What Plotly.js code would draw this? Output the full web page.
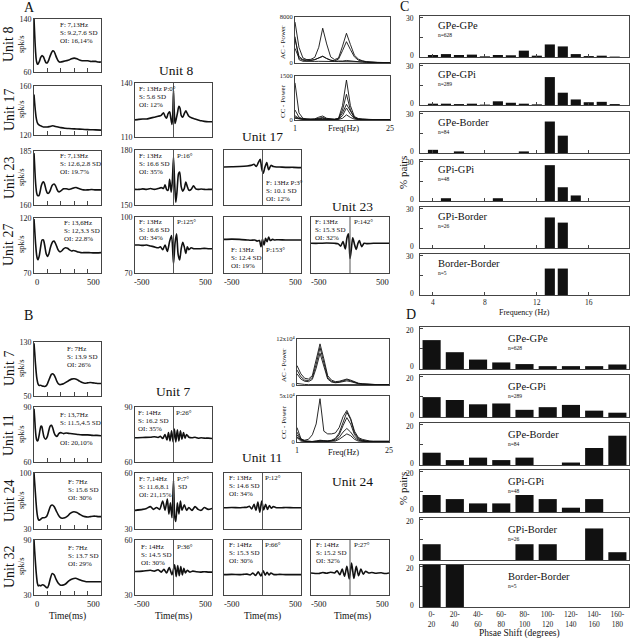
<!DOCTYPE html>
<html><head><meta charset="utf-8">
<script src="https://cdn.plot.ly/plotly-3.0.1.min.js"></script>
<style>html,body{margin:0;padding:0;background:#fff}#g{width:633px;height:638px}</style>
</head><body><div id="g"></div>
<script>
// ---------- Panel A : auto-correlograms (lag ms, spk/s) ----------
const lagA8  = [0,4,8,12,16,20,25,30,40,50,60,70,80,90,100,110,120,130,140,150,160,170,180,190,200,220,240,260,280,300,320,340,360,380,400,420,440,460,480,500];
const acA8   = [140,122,104,90,80,75,72,72,76,82,85,83,78,74,74,78,84,89,92,91,86,81,77,75,75,76,77,78,80,81,80,78,77,77,77,76,76,76,75,75];
const lagA17 = [0,5,10,15,20,25,30,40,50,60,70,80,100,120,140,160,180,200,230,260,300,340,380,420,460,500];
const acA17  = [153,146,140,135,132,130,129,128,127.5,127,126.5,126.5,126.5,127,127.5,127,126.5,126,125.5,125.3,125,124.8,124.5,124.3,124.2,124];
const lagA23 = [0,5,10,15,20,25,30,37,45,55,65,72,80,90,100,110,120,135,150,160,170,180,190,200,220,240,260,280,300,315,330,350,370,400,430,460,500];
const acA23  = [184,178,172,168,165.5,164.5,164.3,164.3,166,169,170.5,170.7,169.5,167,165.5,165.5,166.5,169,169.7,169,167.5,166.3,166.1,166.5,167.5,167.5,167.2,167.5,168,168.1,167.7,167.3,167,167,167.2,167,167];
const lagA27 = [0,5,10,15,20,25,30,40,50,60,70,80,90,100,110,120,130,140,150,160,170,180,190,200,210,220,235,250,265,280,295,310,330,350,380,410,440,470,500];
const acA27  = [119,110,100,92,86,83,82,86,94,100,100,95,88,85,87,92,96,98.5,99,97,94,91,89.5,89.5,90.5,92,93,92.5,91,90,90.5,90,89,88.5,88.5,88.5,88.3,88.3,88.5];
// ---------- Panel A : cross-correlograms ----------
const lagX17_8 = [-500,-450,-400,-350,-300,-250,-200,-160,-130,-110,-90,-70,-50,-35,-20,-10,0,10,20,35,50,70,85,100,120,140,160,180,200,240,280,320,360,400,450,500];
const ccX17_8  = [119.5,119.8,120,120,120.5,121,121.5,122,123.5,121.5,120.5,123,124,120.5,117,122,136,124,117.5,120,123,127,126,122,121,123,124.5,123,121.5,120.5,120,119.5,119,118.7,118.5,118.5];
const lagX23_8 = [-500,-450,-400,-350,-300,-250,-200,-160,-130,-110,-90,-70,-50,-30,-15,0,15,30,45,65,80,100,120,140,160,180,200,230,260,290,320,360,400,450,500];
const ccX23_8  = [158.5,158.5,158.8,158.5,159,158.5,159,159.5,159,161,158.5,158,164,157,163,176,162,151.5,157,167,168,160,157.5,159,162.5,160,158,158.5,160.5,158.8,158.5,158.7,158.5,158.5,158.5];
const lagX27_8 = [-500,-450,-400,-350,-300,-250,-200,-170,-140,-110,-80,-50,-25,0,20,40,60,80,100,120,140,160,180,200,230,260,300,350,400,450,500];
const ccX27_8  = [85,85,84.8,85,84.5,84,83.5,84,82.5,85,81.5,87,90,75,86,91,80,77,83,86.5,84,80.5,84,82.5,83.5,83,83,83,83.2,83,83];
const lagX23_17 = [-500,-400,-300,-200,-150,-110,-80,-55,-30,-10,10,30,55,80,110,140,180,220,300,400,500];
const ccX23_17  = [69,69.5,70,71,72,74,70,77,83,66,58,68,77,64,72,70,69,69,68.5,68.5,68];
const lagX27_17 = [-500,-400,-300,-200,-150,-100,-70,-40,-20,0,20,40,60,80,100,130,160,200,300,400,500];
const ccX27_17  = [60,60.5,60,59,58.5,59,57,58,47,60,50,62,56,64,58,60,59,59.5,59,59,59];
const lagX27_23 = [-500,-400,-300,-200,-150,-120,-90,-60,-40,-20,0,15,35,60,80,100,120,150,180,220,300,400,500];
const ccX27_23  = [53,53,53.5,53,52,48,56,43,62,70,26,40,63,50,42,52,58,47,53,52.5,53,53,53];
// ---------- Panel A : power spectra ----------
const freqPS = [1,2,3,4,5,6,7,8,9,10,11,12,13,14,15,16,17,18,19,20,21,22,23,24,25];
const acPowA = [
 [7300,2800,900,600,650,1000,2800,6200,3400,1100,600,900,3000,5300,3300,1400,700,400,250,150,100,80,60,50,40],
 [4200,1200,600,500,500,600,900,1200,800,500,400,700,2200,3800,2400,1100,500,300,200,120,80,60,50,40,30],
 [2600,900,500,400,450,600,900,1200,800,500,350,300,350,450,350,250,200,150,100,80,60,50,40,30,30],
 [4700,600,300,250,250,280,300,320,300,280,260,250,260,280,260,240,220,200,180,150,120,100,80,60,50]];
const ccPowA = [
 [1300,250,60,30,30,40,100,140,60,30,20,60,500,1400,500,120,50,30,20,15,10,10,10,10,10],
 [350,100,40,20,20,30,60,90,40,20,20,50,350,900,350,90,40,25,15,10,10,10,10,10,10],
 [150,60,30,20,20,20,40,60,30,20,20,40,250,550,300,80,30,20,15,10,10,10,10,10,10],
 [100,50,30,20,20,20,30,40,30,20,15,30,150,420,200,60,25,15,10,10,10,10,10,10,10],
 [60,30,20,15,15,15,20,30,20,15,10,20,60,180,90,30,15,10,10,10,10,10,10,10,10]];
// ---------- Panel B : auto-correlograms ----------
const lagB7  = [0,5,10,15,20,25,30,40,50,60,70,80,90,100,110,120,130,140,150,160,170,180,190,200,220,240,260,280,300,320,340,360,380,400,420,440,460,480,500];
const acB7   = [128,115,100,88,78,72,68,65.5,66,65,64.5,64,65,68,73,78,82,83,81,77,72,68.5,67,67,68,70.5,73,75,75.5,74.5,72,70,69,69.5,70,69.5,69,68.5,68.5];
const lagB11 = [0,5,10,15,20,25,30,38,45,52,58,65,75,87,100,110,120,131,140,150,160,173,185,200,220,240,270,300,330,360,400,440,470,500];
const acB11  = [89,84,78,74,72,71.5,71.8,74.5,77.5,79.5,79.5,77,73.5,72.4,74,77,79.5,80,78.5,76,74.5,74,75.5,76,75.5,75.8,75.5,75.3,75,74.8,74.8,74.5,74.5,74.3];
const lagB24 = [0,5,10,15,20,25,30,37,45,55,65,75,85,95,105,115,125,136,150,165,180,195,210,230,250,270,297,320,340,360,380,400,420,440,460,480,500];
const acB24  = [100,88,76,64,54,47,43,41,41.5,43,44,44,44.5,46,50,55,59,60,58,53,48,44.5,43.5,44,46,49.5,51.5,50.5,48.5,46.5,45.5,45,45.5,46,46,45.5,45.5];
const lagB32 = [0,5,10,15,20,25,32,40,50,60,70,80,90,100,110,120,136,150,165,180,195,215,235,260,285,310,335,360,390,420,450,480,500];
const acB32  = [90,78,67,57,49,43,40,40.5,40,41,41,40,38.5,38,41,47,53.5,52,47,43,41,40.8,42,45.5,47.5,48.2,47,45.5,44.5,44.5,44.5,44.5,44.5];
// ---------- Panel B : cross-correlograms ----------
const lagX11_7 = [-500,-400,-300,-250,-200,-170,-140,-110,-85,-65,-45,-25,-5,12,30,50,70,90,110,130,150,170,200,240,280,320,360,400,450,500];
const ccX11_7  = [73.2,73.4,73.5,73.8,73.4,74,72.8,75,72,76,71.5,77,71,78,71,77.5,71.5,77,72.5,76,73,75,73.5,73.2,73.5,73,73.2,73,73,72.8];
const lagX24_7 = [-500,-400,-350,-300,-260,-220,-180,-140,-110,-80,-60,-40,-20,0,15,30,50,70,90,110,140,170,200,240,280,320,360,400,450,500];
const ccX24_7  = [40,40.5,41,42,40.5,41.5,40.5,45,40,46,38,44,36,56,37,34,44,38,45,40,43,40,41.5,40,42,40.5,40,41.5,40.5,41];
const lagX32_7 = [-500,-400,-300,-250,-200,-160,-125,-90,-55,-20,15,35,55,75,95,115,135,155,180,210,250,300,350,400,450,500];
const ccX32_7  = [42.8,43,43.5,43,43.8,42.5,44,42,45,41,46.5,40,46,40.5,45.5,41,44.5,42,43.5,42.5,43,42.7,42.5,42.7,42.5,42.5];
const lagX24_11 = [-500,-400,-300,-250,-200,-170,-140,-110,-85,-60,-35,-10,15,40,65,90,115,140,170,200,250,300,400,500];
const ccX24_11  = [38,38.5,38,38.5,39,40.5,36,44,33,48,30,50,34,44,35,42,37,40,38.5,38,38,38.5,38,38];
const lagX32_11 = [-500,-400,-300,-250,-200,-160,-125,-90,-55,-20,10,35,60,85,110,140,180,220,300,400,500];
const ccX32_11  = [37,37.5,37,37.5,38,36.5,40,35.5,42,34.5,44,36,41.5,36.5,40,37.5,37,37.5,37,37,37];
const lagX32_24 = [-500,-400,-350,-300,-250,-200,-165,-130,-100,-70,-40,-10,20,50,80,110,140,170,200,240,280,320,400,450,500];
const ccX32_24  = [40,39,41,39.5,41.5,40,44,37,47,34,52,29,58,30,52,35,47,38,43,40,41,39.5,40.5,39,40];
// ---------- Panel B : power spectra (x10^4) ----------
const acPowB = [
 [5.2,3.0,1.8,1.6,2.5,6.5,11.0,7.0,2.5,1.3,0.9,1.0,1.3,1.6,1.3,0.8,0.5,0.3,0.2,0.15,0.1,0.1,0.1,0.1,0.1],
 [4.0,2.2,1.3,1.2,2.0,5.5,10.0,6.0,2.0,1.0,0.7,0.8,1.1,1.4,1.1,0.7,0.4,0.3,0.2,0.15,0.1,0.1,0.1,0.1,0.1],
 [3.0,1.6,1.0,0.9,1.5,4.5,8.5,5.0,1.6,0.8,0.6,0.7,0.9,1.1,0.9,0.6,0.35,0.25,0.15,0.1,0.1,0.1,0.1,0.1,0.1],
 [0.4,0.2,0.15,0.1,0.1,0.15,0.25,0.2,0.1,0.1,0.1,0.1,0.1,0.1,0.1,0.1,0.1,0.1,0.1,0.1,0.1,0.1,0.1,0.1,0.1]];
const ccPowB = [
 [0.5,0.3,0.2,0.3,0.8,2.0,4.8,1.2,0.9,0.9,1.0,1.6,2.8,3.5,2.6,1.2,0.5,0.3,0.2,0.1,0.1,0.1,0.1,0.1,0.1],
 [1.6,0.4,0.1,0.05,0.05,0.1,0.2,0.15,0.1,0.2,0.4,1.0,2.2,3.3,2.5,1.0,0.4,0.2,0.1,0.05,0.05,0.05,0.05,0.05,0.05],
 [1.1,0.3,0.1,0.05,0.05,0.1,0.15,0.1,0.1,0.15,0.3,0.8,1.8,2.7,2.0,0.8,0.3,0.15,0.1,0.05,0.05,0.05,0.05,0.05,0.05],
 [0.8,0.2,0.1,0.05,0.05,0.05,0.1,0.1,0.05,0.1,0.2,0.5,1.1,1.5,1.1,0.5,0.2,0.1,0.05,0.05,0.05,0.05,0.05,0.05,0.05],
 [0.5,0.1,0.05,0.05,0.05,0.05,0.05,0.05,0.05,0.05,0.1,0.3,0.6,0.9,0.7,0.3,0.1,0.05,0.05,0.05,0.05,0.05,0.05,0.05,0.05]];
// ---------- Panel C : oscillation frequency histograms (% pairs) ----------
const pairGroups = ['GPe-GPe','GPe-GPi','GPe-Border','GPi-GPi','GPi-Border','Border-Border'];
const pairN = ['n=628','n=289','n=84','n=48','n=26','n=5'];
const freqHz = [4,5,6,7,8,9,10,11,12,13,14,15,16,17,18];
const freqPct = [
 [1.5,2.2,1.5,1.8,0.5,1.5,1.3,4.8,1.0,9.5,8.0,2.2,0.7,1.0,0.3],
 [1.0,1.0,0.7,1.0,0.3,2.8,1.7,1.0,0.5,21.1,9.3,4.2,2.1,2.4,0.7],
 [2.4,0,1.2,0,0,0,0,1.2,0,23.8,13.1,0,0,0,0],
 [0,2.1,0,0,0,2.1,0,0,0,27.1,10.4,4.2,0,0,0],
 [0,0,0,0,0,0,0,0,0,23.1,19.2,0,0,0,0],
 [0,0,0,0,0,0,0,0,0,20,20,0,0,0,0]];
// ---------- Panel D : phase shift histograms (% pairs) ----------
const phaseBins = ['0-<br>20','20-<br>40','40-<br>60','60-<br>80','80-<br>100','100-<br>120','120-<br>140','140-<br>160','160-<br>180'];
const phasePct = [
 [14.1,8.2,4.6,3.2,2.4,1.4,1.4,1.4,2.2],
 [9.7,8.3,6.2,6.6,3.5,4.8,5.9,3.1,2.1],
 [6.0,2.4,3.6,2.4,3.6,0,1.2,8.3,14.3],
 [8.3,6.3,4.2,4.2,8.3,6.3,2.1,6.3,0],
 [7.7,0,0,0,7.7,7.7,0,15.4,3.8],
 [60,40,0,0,0,0,0,0,0]];

// ================= drawing =================
const W=633,H=638;
const FONT='Liberation Serif, "Times New Roman", serif';
const data=[], shapes=[], annotations=[];
const layout={width:W,height:H,margin:{l:0,r:0,t:0,b:0},paper_bgcolor:'#fff',plot_bgcolor:'#fff',
  showlegend:false,font:{family:FONT,size:8,color:'#222'},shapes,annotations};
let n=0;
function panel(box,xo,yo){
  n++; const s=n===1?'':String(n);
  const base={showline:true,mirror:true,linecolor:'#444',linewidth:1,showgrid:false,zeroline:false,
    ticks:'',showticklabels:false,fixedrange:true,tickfont:{family:FONT,size:8,color:'#222'},ticklen:3,tickcolor:'#444'};
  layout['xaxis'+s]=Object.assign({},base,{domain:[box[0]/W,box[2]/W],anchor:'y'+s},xo);
  layout['yaxis'+s]=Object.assign({},base,{domain:[1-box[3]/H,1-box[1]/H],anchor:'x'+s},yo);
  return {x:'x'+s,y:'y'+s};
}
function line(a,x,y,w,shape){
  data.push({type:'scatter',mode:'lines',x:x,y:y,xaxis:a.x,yaxis:a.y,hoverinfo:'skip',
    line:{color:'#111',width:w||1.6,shape:shape||'spline',smoothing:0.7}});
}
function txt(px,py,text,size,o){
  annotations.push(Object.assign({xref:'paper',yref:'paper',x:px/W,y:1-py/H,text:text,showarrow:false,
    xanchor:'left',yanchor:'middle',font:{family:FONT,size:size||7,color:'#111'}},o||{}));
}
function block(px,py,lines,size){ lines.forEach((t,i)=>txt(px,py+i*8,t,size)); }
const ctr=(x,y,s,sz)=>txt(x,y,s,sz||8.5,{xanchor:'center'});
const rgt=(x,y,s,sz)=>txt(x,y,s,sz||7.5,{xanchor:'right'});

// ---- auto-correlogram axis builder (inside ticks every 100 ms)
function autoAx(box,yr){
  return panel(box,{range:[0,500],tickvals:[0,100,200,300,400,500],ticks:'inside',ticklen:4},
    {range:yr,tickvals:yr,ticktext:yr.map(String),showticklabels:true});
}
function crossAx(box,yr,yl){
  const a=panel(box,{range:[-500,500]},
    {range:yr,tickvals:yr,ticktext:yr.map(String),showticklabels:!!yl});
  shapes.push({type:'line',xref:a.x,yref:a.y+' domain',x0:0,x1:0,y0:0,y1:1,line:{color:'#555',width:1}});
  return a;
}
function psAx(box,yr,ylab,bottom){
  return panel(box,{range:[1,25],tickvals:[1,25],ticktext:['1','25'],showticklabels:!!bottom},
    {range:yr,tickvals:[0,yr[1]],ticktext:['0',ylab],showticklabels:true,tickfont:{family:FONT,size:6.5,color:'#222'}});
}

// columns / rows (pixel boxes)
const c1=[34,101], c2=[135,212], c3=[224,301], c4=[311,389];
const rA1=[[19,72],[86,135],[151,205],[218,273]], rA=[null,[83,137],[150,205],[217,273]];
const rB1=[[342,396],[407,462],[473,529],[540,595]], rB=[null,[407,462],[473,529],[540,595]];
const bx=(c,r)=>[c[0],r[0],c[1],r[1]];

// ---- Panel A
let a;
a=autoAx(bx(c1,rA1[0]),[60,140]); line(a,lagA8,acA8);
a=autoAx(bx(c1,rA1[1]),[120,160]); line(a,lagA17,acA17);
a=autoAx(bx(c1,rA1[2]),[160,185]); line(a,lagA23,acA23);
a=autoAx(bx(c1,rA1[3]),[70,120]); line(a,lagA27,acA27);
a=crossAx(bx(c2,rA[1]),[110,140],true); line(a,lagX17_8,ccX17_8);
a=crossAx(bx(c2,rA[2]),[150,180],true); line(a,lagX23_8,ccX23_8);
a=crossAx(bx(c2,rA[3]),[70,100],true); line(a,lagX27_8,ccX27_8);
a=crossAx(bx(c3,rA[2]),[0,100],false); line(a,lagX23_17,ccX23_17);
a=crossAx(bx(c3,rA[3]),[0,100],false); line(a,lagX27_17,ccX27_17);
a=crossAx(bx(c4,rA[3]),[0,100],false); line(a,lagX27_23,ccX27_23);
a=psAx([295,17,390,63],[0,8200],'8000',false); acPowA.forEach(v=>line(a,freqPS,v,0.9,'linear'));
a=psAx([295,76,390,120],[0,1540],'1500',true); ccPowA.forEach(v=>line(a,freqPS,v,0.9,'linear'));

// ---- Panel B
a=autoAx(bx(c1,rB1[0]),[50,130]); line(a,lagB7,acB7);
a=autoAx(bx(c1,rB1[1]),[60,90]); line(a,lagB11,acB11);
a=autoAx(bx(c1,rB1[2]),[30,100]); line(a,lagB24,acB24);
a=autoAx(bx(c1,rB1[3]),[30,90]); line(a,lagB32,acB32);
a=crossAx(bx(c2,rB[1]),[60,90],true); line(a,lagX11_7,ccX11_7);
a=crossAx(bx(c2,rB[2]),[30,60],true); line(a,lagX24_7,ccX24_7);
a=crossAx(bx(c2,rB[3]),[30,60],true); line(a,lagX32_7,ccX32_7);
a=crossAx(bx(c3,rB[2]),[0,100],false); line(a,lagX24_11,ccX24_11);
a=crossAx(bx(c3,rB[3]),[0,100],false); line(a,lagX32_11,ccX32_11);
a=crossAx(bx(c4,rB[3]),[0,100],false); line(a,lagX32_24,ccX32_24);
a=psAx([297,339,389,385],[0,12.3],'12x10⁴',false); acPowB.forEach(v=>line(a,freqPS,v,0.9,'linear'));
a=psAx([297,396,389,442],[0,5.1],'5x10⁴',true); ccPowB.forEach(v=>line(a,freqPS,v,0.9,'linear'));

// bottom lag labels (inset, as in the original)
[[282],[604]].forEach(([y])=>{
  ctr(37,y,'0'); ctr(93,y,'500');
  ctr(142,y,'-500'); ctr(205,y,'500');
  ctr(232,y,'-500'); ctr(295,y,'500');
  ctr(319,y,'-500'); ctr(382,y,'500');
});

// ---- Panel C
const cTops=[16,64,112,160,207,254];
cTops.forEach((t,i)=>{
  const last=i===cTops.length-1;
  const ax=panel([420,t,629,t+41],{range:[3,19.1],tickvals:[4,8,12,16],ticktext:['4','8','12','16'],ticks:'inside',ticklen:3,showticklabels:last,
      tickfont:{family:FONT,size:7.5,color:'#222'}},
    {range:[0,31],tickvals:[0,15,30],ticks:'inside',ticklen:3});
  data.push({type:'bar',x:freqHz,y:freqPct[i],xaxis:ax.x,yaxis:ax.y,width:0.78,marker:{color:'#111'},hoverinfo:'skip'});
  rgt(416,t+2.5,'30'); rgt(416,t+39.5,'0');
  txt(436,t+10,pairGroups[i],10.5); txt(436,t+19.5,pairN[i],5.5);
});
// ---- Panel D
const dTops=[327,375,423,470,518,565];
dTops.forEach((t,i)=>{
  const last=i===dTops.length-1;
  const ax=panel([420,t,629,t+42],{range:[-0.5,8.5],tickvals:[0,1,2,3,4,5,6,7,8],ticktext:phaseBins,showticklabels:last,
      tickfont:{family:FONT,size:7.5,color:'#222'}},
    {range:[0,20.5],tickvals:[0,10,20],ticks:'inside',ticklen:3});
  data.push({type:'bar',x:[0,1,2,3,4,5,6,7,8],y:phasePct[i],xaxis:ax.x,yaxis:ax.y,width:0.78,marker:{color:'#111'},hoverinfo:'skip'});
  rgt(416,t+3,'20'); rgt(416,t+40,'0');
  txt(506,t+11,pairGroups[i],10.5); txt(506,t+20.5,pairN[i],5.5);
});

// ---- texts: panel letters
txt(22,7,'A',14); txt(22,316,'B',14); txt(398,6,'C',14); txt(404,314,'D',14);
// row labels
function rowLab(y,u){ txt(9,y,u,14,{textangle:-90,xanchor:'center'}); txt(21,y,'spk/s',8.5,{textangle:-90,xanchor:'center'}); }
rowLab(45,'Unit 8'); rowLab(110,'Unit 17'); rowLab(178,'Unit 23'); rowLab(245,'Unit 27');
rowLab(369,'Unit 7'); rowLab(435,'Unit 11'); rowLab(501,'Unit 24'); rowLab(567,'Unit 32');
// column titles
const ct=(x,y,s)=>txt(x,y,s,13.5,{xanchor:'center'});
ct(176,70,'Unit 8'); ct(262,137,'Unit 17'); ct(352,206,'Unit 23');
ct(173,391,'Unit 7'); ct(262,457,'Unit 11'); ct(352,481,'Unit 24');
// Time labels
[67,173,262,352].forEach(x=>txt(x,616,'Time(ms)',9.5,{xanchor:'center'}));
// power spectrum labels
const vl=(x,y,s)=>txt(x,y,s,7,{textangle:-90,xanchor:'center'});
vl(283,42,'AC - Power'); vl(283,101,'CC - Power'); vl(284,365,'AC - Power'); vl(284,422,'CC - Power');
txt(343,128,'Freq(Hz)',8.5,{xanchor:'center'}); txt(343,452,'Freq(Hz)',8.5,{xanchor:'center'});
// C / D axis titles
txt(403,172,'% pairs',11,{textangle:-90,xanchor:'center'}); txt(403,488,'% pairs',11,{textangle:-90,xanchor:'center'});
txt(524,312,'Frequency (Hz)',8,{xanchor:'center'});
txt(519,633,'Phsae Shift (degrees)',9.5,{xanchor:'center'});

// in-panel statistics (A)
block(58,25,['F: 7,13Hz','S: 9.2,7.6 SD','OI: 16,14%']);
block(58,156,['F: 7,13Hz','S: 12.6,2.8 SD','OI: 19.7%']);
block(62,223,['F: 13,6Hz','S: 12,3.3 SD','OI: 22.8%']);
block(137,89,['F: 13Hz P:0°','S: 5.6 SD','OI: 12%']);
block(137,156,['F: 13Hz','S: 16.6 SD','OI: 35%']); txt(175,156,'P:16°');
block(137,222,['F: 13Hz','S: 16.6 SD','OI: 34%']); txt(175,222,'P:125°');
block(264,183,['F: 13Hz P:3°','S: 10.1 SD','OI: 12%']);
block(229,250,['F: 13Hz','S: 12.4 SD','OI: 19%']); txt(264,250,'P:153°');
block(313,222,['F: 13Hz','S: 15.3 SD','OI: 32%']); txt(352,222,'P:142°');
// in-panel statistics (B)
block(65,349,['F: 7Hz','S: 13.9 SD','OI: 26%']);
block(58,415,['F: 13,7Hz','S: 11.5,4.5 SD']); txt(58,443,'OI: 20,10%');
block(66,482,['F: 7Hz','S: 15.6 SD','OI: 30%']);
block(66,548,['F: 7Hz','S: 13.7 SD','OI: 29%']);
block(136,413,['F: 14Hz','S: 16.2 SD','OI: 35%']); txt(174,413,'P:26°');
block(137,479,['F: 7,14Hz','S: 11.6,8.1','OI: 21,15%']); txt(175,479,'P:7°'); txt(176,487,'SD');
block(139,547,['F: 14Hz','S: 14.5 SD','OI: 30%']); txt(175,547,'P:36°');
block(227,478,['F: 13Hz','S: 14.6 SD','OI: 34%']); txt(263,478,'P:12°');
block(227,545,['F: 14Hz','S: 15.3 SD','OI: 30%']); txt(263,545,'P:66°');
block(314,545,['F: 14Hz','S: 15.2 SD','OI: 32%']); txt(352,545,'P:27°');

Plotly.newPlot('g',data,layout,{staticPlot:true,displayModeBar:false});
</script></body></html>
